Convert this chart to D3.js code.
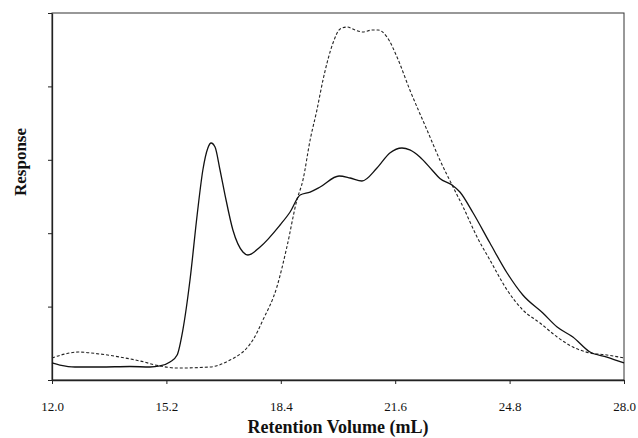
<!DOCTYPE html>
<html><head><meta charset="utf-8">
<script src="https://cdn.jsdelivr.net/npm/d3@7"></script>
<style>
body{margin:0;background:#fff;}
svg text{font-family:"Liberation Serif","DejaVu Serif",serif !important;fill:#111;}
</style></head>
<body><svg id="c" width="638" height="438"></svg>
<script>
const xTicks = [12.0, 15.2, 18.4, 21.6, 24.8, 28.0];
const yTicks = [0, 1, 2, 3, 4, 5];

const solidX = [12.00,12.22,12.64,13.34,14.18,14.74,15.02,15.30,15.50,15.66,15.86,16.06,16.22,16.36,16.45,16.56,16.70,16.84,17.06,17.34,17.48,17.82,18.38,18.66,18.94,19.22,19.50,20.03,20.34,20.67,21.09,21.45,21.79,22.01,22.29,22.63,22.85,23.19,23.41,23.78,24.25,24.73,25.17,25.73,26.13,26.57,27.05,27.52,28.00];
const solidY = [0.232,0.204,0.177,0.177,0.184,0.177,0.191,0.245,0.341,0.681,1.362,2.248,2.861,3.161,3.229,3.174,2.861,2.520,2.044,1.744,1.703,1.812,2.112,2.289,2.520,2.561,2.629,2.779,2.752,2.711,2.888,3.093,3.161,3.134,3.038,2.861,2.745,2.657,2.561,2.275,1.866,1.458,1.158,0.913,0.722,0.586,0.381,0.313,0.232];

const dashX = [12.00,12.36,12.73,13.34,13.90,14.46,15.02,15.50,16.42,16.98,17.45,17.62,17.90,18.29,18.57,18.85,19.02,19.22,19.41,19.58,19.86,20.06,20.25,20.48,20.70,20.95,21.12,21.37,21.65,22.01,22.49,22.85,23.19,23.50,23.89,24.25,24.73,25.17,25.65,26.13,26.57,27.05,27.52,28.00];
const dashY = [0.300,0.354,0.381,0.354,0.313,0.259,0.191,0.163,0.177,0.272,0.436,0.545,0.817,1.267,1.812,2.452,2.725,3.270,3.678,4.087,4.591,4.782,4.809,4.768,4.741,4.768,4.768,4.673,4.401,3.951,3.406,2.997,2.657,2.357,1.948,1.635,1.226,0.954,0.777,0.586,0.450,0.368,0.341,0.300];

const svg = d3.select("#c");
const L = 52, R = 624, T = 13, B = 380;
const x = d3.scaleLinear().domain([12, 28]).range([L, R]);
const y = d3.scaleLinear().domain([0, 5]).range([B, T]);
const FF = "Liberation Serif, DejaVu Serif, serif";

svg.append("rect").attr("x", L).attr("y", T).attr("width", R - L).attr("height", B - T)
  .attr("fill", "none").attr("stroke", "#333").attr("stroke-width", 1);

const xa = svg.append("g").attr("transform", `translate(0,${B})`)
  .call(d3.axisBottom(x).tickValues(xTicks).tickFormat(d3.format(".1f")).tickSize(4).tickSizeOuter(0).tickPadding(18));
xa.attr("font-family", FF);
xa.select(".domain").attr("stroke", "#222").attr("stroke-width", 1.3);
xa.selectAll(".tick line").attr("stroke", "#222");
xa.selectAll("text").attr("font-size", 13).attr("fill", "#111").attr("font-family", FF);

const ya = svg.append("g").attr("transform", `translate(${L},0)`)
  .call(d3.axisLeft(y).tickValues(yTicks).tickFormat("").tickSize(4).tickSizeOuter(0));
ya.select(".domain").attr("stroke", "#222").attr("stroke-width", 1.3);
ya.selectAll(".tick line").attr("stroke", "#222");

const line = d3.line().x(d => x(d[0])).y(d => y(d[1])).curve(d3.curveMonotoneX);

svg.append("path").datum(dashX.map((v, i) => [v, dashY[i]]))
  .attr("d", line).attr("fill", "none").attr("stroke", "#222")
  .attr("stroke-width", 1.1).attr("stroke-dasharray", "3,2");

svg.append("path").datum(solidX.map((v, i) => [v, solidY[i]]))
  .attr("d", line).attr("fill", "none").attr("stroke", "#111")
  .attr("stroke-width", 1.3);

svg.append("text").attr("x", 338).attr("y", 433).attr("text-anchor", "middle").attr("font-family", FF)
  .attr("font-size", 18).attr("font-weight", "bold").text("Retention Volume (mL)");

svg.append("text").attr("transform", "translate(26,162) rotate(-90)").attr("text-anchor", "middle").attr("font-family", FF)
  .attr("font-size", 17).attr("font-weight", "bold").text("Response");
</script></body></html>
